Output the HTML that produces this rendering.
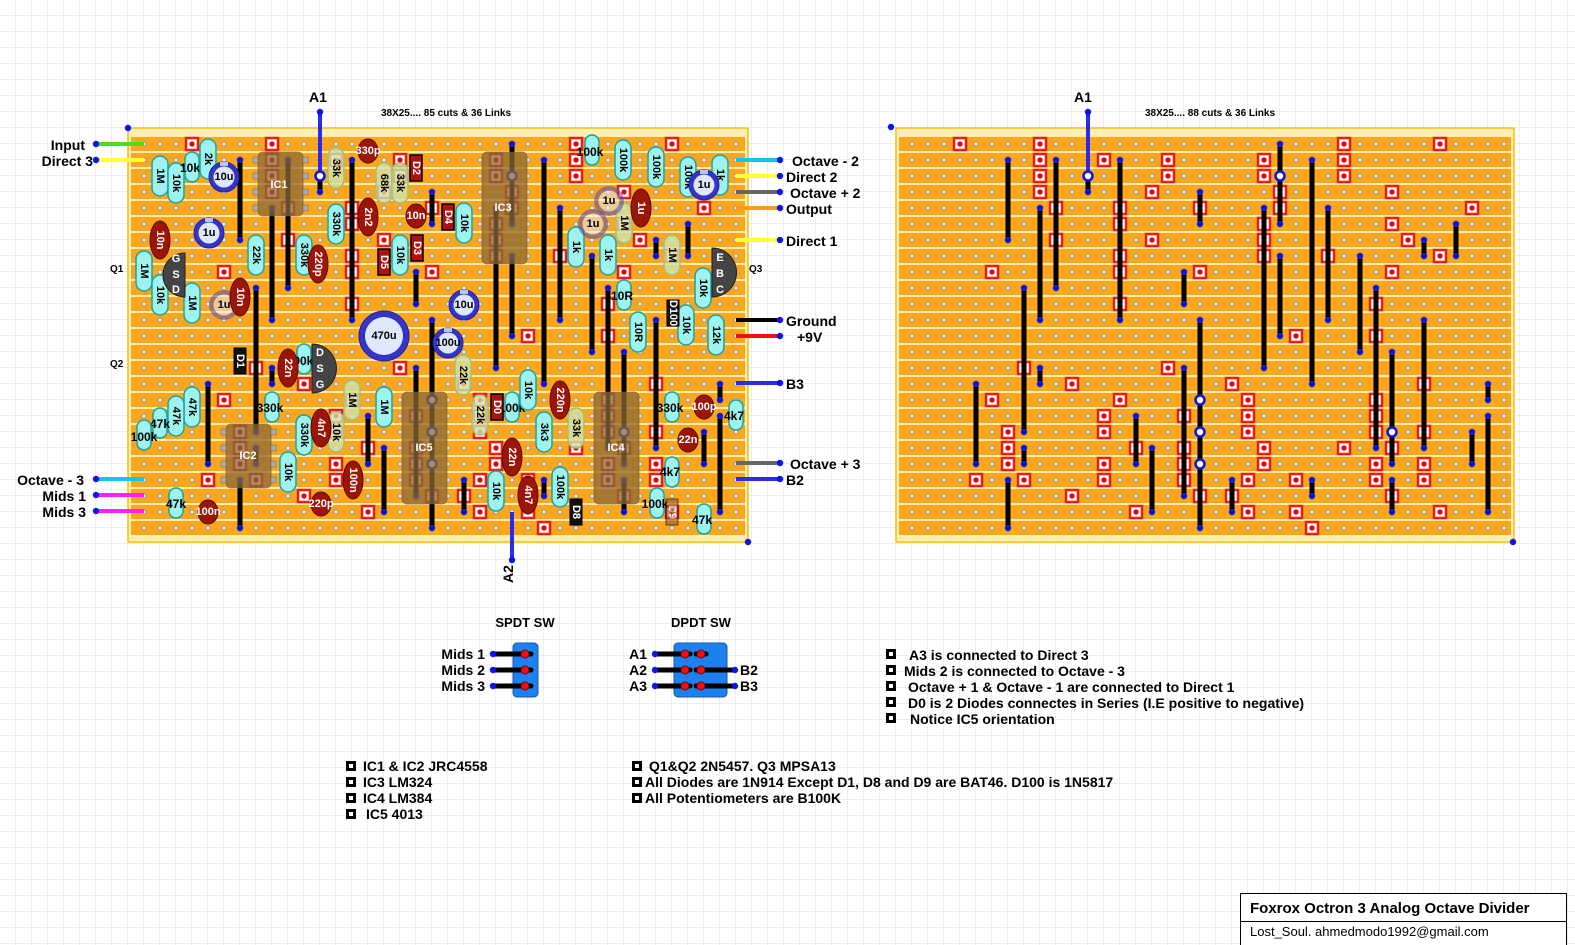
<!DOCTYPE html>
<html><head><meta charset="utf-8"><style>
html,body{margin:0;padding:0;background:#fff}
svg{display:block}
text{font-family:"Liberation Sans",sans-serif}
.b{font-weight:bold}
.lab{font-weight:bold;font-size:14px;fill:#000}
.rt{font-weight:bold;font-size:11px;fill:#000;text-anchor:middle;dominant-baseline:central}
.ct{font-weight:bold;font-size:11px;fill:#fff;text-anchor:middle;dominant-baseline:central}
.ht{font-weight:bold;font-size:12px;fill:#000;text-anchor:middle;dominant-baseline:central}
.lk line{stroke:#000;stroke-width:5}
</style></head><body>
<svg width="1575" height="945" viewBox="0 0 1575 945" xmlns="http://www.w3.org/2000/svg">
<defs>
<pattern id="grid" x="0" y="0" width="16" height="16" patternUnits="userSpaceOnUse"><path d="M16 0V16H0" fill="none" stroke="#dcdcdc" stroke-width="1"/></pattern>
<pattern id="st" x="136" y="136" width="16" height="16" patternUnits="userSpaceOnUse"><rect x="0" y="1" width="16" height="14" fill="#fba61f"/><circle cx="8" cy="8" r="2" fill="#f2f2f2" stroke="#8a8a8a" stroke-width="0.8"/></pattern>
<g id="k"><rect x="-6" y="-6" width="12" height="12" fill="#fff" stroke="#ee1c14" stroke-width="2.5"/><circle r="2.6" fill="#e40000"/></g>
<circle id="d" r="3.2" fill="#0a16e6"/>
<rect id="R" x="-8" y="-20" width="16" height="40" rx="8" fill="#9ef3ee" stroke="#1aa3a0" stroke-width="1.5"/>
<rect id="RF" x="-8" y="-20" width="16" height="40" rx="8" fill="#cfe3a8" fill-opacity="0.8" stroke="#9cc07a" stroke-width="1.5"/>
<rect id="RS" x="-7" y="-15" width="14" height="30" rx="7" fill="#9ef3ee" stroke="#1aa3a0" stroke-width="1.5"/>
<g id="E"><circle r="15" fill="#3434c8" stroke="#22229a"/><circle r="10.5" fill="#dfe8fa"/><rect x="-4" y="-15" width="8" height="4" fill="#b8c4f0"/></g>
<g id="EF" opacity="0.55"><circle r="15" fill="#5a4aa8"/><circle r="10.5" fill="#e8e8f4"/></g>
<ellipse id="C" rx="10" ry="19" fill="#9c1608" stroke="#5a0a00"/>
<ellipse id="CS" rx="10" ry="12" fill="#9c1608" stroke="#5a0a00"/>
<g id="sq"><rect x="-5" y="-5" width="10" height="10" fill="#000"/><rect x="-2" y="-2" width="4" height="4" fill="#fff"/></g>
</defs>
<rect width="1575" height="945" fill="url(#grid)"/>

<!-- boards -->
<rect x="128" y="128" width="620" height="414" fill="#fdeeb6" stroke="#f4c000" stroke-width="1.5"/>
<rect x="131" y="136" width="614" height="400" fill="url(#st)"/>
<rect x="896" y="128" width="618" height="414" fill="#fdeeb6" stroke="#f4c000" stroke-width="1.5"/>
<rect x="899" y="136" width="612" height="400" fill="url(#st)"/>

<g id="CL">
<g>
<use href="#k" x="192" y="144"/><use href="#k" x="272" y="144"/><use href="#k" x="272" y="160"/><use href="#k" x="272" y="176"/><use href="#k" x="272" y="192"/>
<use href="#k" x="336" y="160"/><use href="#k" x="400" y="160"/><use href="#k" x="400" y="176"/><use href="#k" x="384" y="192"/>
<use href="#k" x="288" y="208"/><use href="#k" x="352" y="208"/><use href="#k" x="432" y="208"/><use href="#k" x="352" y="224"/>
<use href="#k" x="288" y="240"/><use href="#k" x="384" y="240"/><use href="#k" x="352" y="256"/><use href="#k" x="224" y="272"/>
<use href="#k" x="352" y="272"/><use href="#k" x="432" y="272"/><use href="#k" x="352" y="304"/><use href="#k" x="256" y="368"/>
<use href="#k" x="400" y="368"/><use href="#k" x="304" y="384"/><use href="#k" x="224" y="400"/><use href="#k" x="352" y="400"/>
<use href="#k" x="336" y="416"/><use href="#k" x="416" y="416"/><use href="#k" x="240" y="432"/><use href="#k" x="336" y="432"/>
<use href="#k" x="240" y="448"/><use href="#k" x="368" y="448"/><use href="#k" x="416" y="448"/><use href="#k" x="240" y="464"/>
<use href="#k" x="336" y="464"/><use href="#k" x="416" y="464"/><use href="#k" x="208" y="480"/><use href="#k" x="256" y="480"/>
<use href="#k" x="336" y="480"/><use href="#k" x="416" y="480"/><use href="#k" x="304" y="496"/><use href="#k" x="432" y="496"/>
<use href="#k" x="368" y="512"/>
<use href="#k" x="576" y="144"/><use href="#k" x="672" y="144"/><use href="#k" x="496" y="160"/><use href="#k" x="576" y="160"/>
<use href="#k" x="496" y="176"/><use href="#k" x="576" y="176"/><use href="#k" x="512" y="192"/><use href="#k" x="624" y="192"/>
<use href="#k" x="512" y="208"/><use href="#k" x="704" y="208"/><use href="#k" x="496" y="224"/><use href="#k" x="624" y="224"/>
<use href="#k" x="496" y="240"/><use href="#k" x="640" y="240"/><use href="#k" x="496" y="256"/><use href="#k" x="560" y="256"/>
<use href="#k" x="672" y="256"/><use href="#k" x="624" y="272"/><use href="#k" x="608" y="304"/><use href="#k" x="528" y="336"/>
<use href="#k" x="608" y="336"/><use href="#k" x="464" y="384"/><use href="#k" x="656" y="384"/><use href="#k" x="480" y="400"/>
<use href="#k" x="608" y="400"/><use href="#k" x="480" y="416"/><use href="#k" x="608" y="416"/><use href="#k" x="480" y="432"/>
<use href="#k" x="608" y="432"/><use href="#k" x="656" y="432"/><use href="#k" x="496" y="448"/><use href="#k" x="576" y="448"/>
<use href="#k" x="624" y="448"/><use href="#k" x="496" y="464"/><use href="#k" x="608" y="464"/><use href="#k" x="656" y="464"/>
<use href="#k" x="480" y="480"/><use href="#k" x="528" y="480"/><use href="#k" x="608" y="480"/><use href="#k" x="656" y="480"/>
<use href="#k" x="464" y="496"/><use href="#k" x="624" y="496"/><use href="#k" x="480" y="512"/><use href="#k" x="528" y="512"/>
<use href="#k" x="672" y="512"/><use href="#k" x="544" y="528"/>
</g>
<g class="lk">
<line x1="240" y1="160" x2="240" y2="240"/><line x1="288" y1="160" x2="288" y2="288"/><line x1="272" y1="208" x2="272" y2="320"/>
<line x1="352" y1="160" x2="352" y2="320"/><line x1="320" y1="176" x2="320" y2="192"/><line x1="432" y1="192" x2="432" y2="224"/>
<line x1="416" y1="272" x2="416" y2="304"/><line x1="432" y1="320" x2="432" y2="528"/><line x1="256" y1="288" x2="256" y2="432"/>
<line x1="272" y1="368" x2="272" y2="384"/><line x1="208" y1="384" x2="208" y2="464"/><line x1="416" y1="368" x2="416" y2="496"/>
<line x1="368" y1="416" x2="368" y2="464"/><line x1="384" y1="448" x2="384" y2="512"/><line x1="256" y1="448" x2="256" y2="464"/>
<line x1="240" y1="480" x2="240" y2="528"/><line x1="512" y1="144" x2="512" y2="224"/><line x1="544" y1="160" x2="544" y2="384"/>
<line x1="496" y1="208" x2="496" y2="368"/><line x1="560" y1="208" x2="560" y2="320"/><line x1="688" y1="224" x2="688" y2="256"/>
<line x1="656" y1="240" x2="656" y2="256"/><line x1="512" y1="256" x2="512" y2="336"/><line x1="592" y1="256" x2="592" y2="352"/>
<line x1="608" y1="288" x2="608" y2="448"/><line x1="656" y1="320" x2="656" y2="448"/><line x1="624" y1="352" x2="624" y2="464"/>
<line x1="720" y1="384" x2="720" y2="400"/><line x1="720" y1="416" x2="720" y2="512"/><line x1="704" y1="432" x2="704" y2="464"/>
<line x1="464" y1="480" x2="464" y2="512"/><line x1="544" y1="480" x2="544" y2="496"/><line x1="624" y1="480" x2="624" y2="512"/>
</g>
<g>
<use href="#d" x="240" y="160"/><use href="#d" x="240" y="240"/><use href="#d" x="288" y="160"/><use href="#d" x="288" y="288"/><use href="#d" x="272" y="208"/><use href="#d" x="272" y="320"/>
<use href="#d" x="352" y="160"/><use href="#d" x="352" y="320"/><use href="#d" x="320" y="192"/><use href="#d" x="432" y="192"/><use href="#d" x="432" y="224"/>
<use href="#d" x="416" y="272"/><use href="#d" x="416" y="304"/><use href="#d" x="432" y="320"/><use href="#d" x="432" y="528"/><use href="#d" x="256" y="288"/><use href="#d" x="256" y="432"/>
<use href="#d" x="272" y="368"/><use href="#d" x="272" y="384"/><use href="#d" x="208" y="384"/><use href="#d" x="208" y="464"/><use href="#d" x="416" y="368"/><use href="#d" x="416" y="496"/>
<use href="#d" x="368" y="416"/><use href="#d" x="368" y="464"/><use href="#d" x="384" y="448"/><use href="#d" x="384" y="512"/><use href="#d" x="256" y="448"/><use href="#d" x="256" y="464"/>
<use href="#d" x="240" y="480"/><use href="#d" x="240" y="528"/><use href="#d" x="512" y="144"/><use href="#d" x="512" y="224"/><use href="#d" x="544" y="160"/><use href="#d" x="544" y="384"/>
<use href="#d" x="496" y="208"/><use href="#d" x="496" y="368"/><use href="#d" x="560" y="208"/><use href="#d" x="560" y="320"/><use href="#d" x="688" y="224"/><use href="#d" x="688" y="256"/>
<use href="#d" x="656" y="240"/><use href="#d" x="656" y="256"/><use href="#d" x="512" y="256"/><use href="#d" x="512" y="336"/><use href="#d" x="592" y="256"/><use href="#d" x="592" y="352"/>
<use href="#d" x="608" y="288"/><use href="#d" x="608" y="448"/><use href="#d" x="656" y="320"/><use href="#d" x="656" y="448"/><use href="#d" x="624" y="352"/><use href="#d" x="624" y="464"/>
<use href="#d" x="720" y="384"/><use href="#d" x="720" y="400"/><use href="#d" x="720" y="416"/><use href="#d" x="720" y="512"/><use href="#d" x="704" y="432"/><use href="#d" x="704" y="464"/>
<use href="#d" x="464" y="480"/><use href="#d" x="464" y="512"/><use href="#d" x="544" y="480"/><use href="#d" x="544" y="496"/><use href="#d" x="624" y="480"/><use href="#d" x="624" y="512"/>
</g>
<g fill="#fff" stroke="#0a16e6" stroke-width="2.5">
<circle cx="432" cy="400" r="4.5"/><circle cx="432" cy="432" r="4.5"/><circle cx="432" cy="464" r="4.5"/><circle cx="512" cy="176" r="4.5"/><circle cx="624" cy="432" r="4.5"/>
</g>
</g>
<use href="#CL" transform="translate(768,0)"/>

<!-- A1 wires -->
<line x1="320" y1="112" x2="320" y2="176" stroke="#2b2bf0" stroke-width="4"/>
<circle cx="320" cy="176" r="4.5" fill="#fff" stroke="#0a16e6" stroke-width="2.5"/>
<line x1="1088" y1="112" x2="1088" y2="176" stroke="#2b2bf0" stroke-width="4"/>
<circle cx="1088" cy="176" r="4.5" fill="#fff" stroke="#0a16e6" stroke-width="2.5"/>
<use href="#d" x="320" y="112"/><use href="#d" x="1088" y="112"/>
<line x1="512" y1="512" x2="512" y2="560" stroke="#2b2bf0" stroke-width="4"/><use href="#d" x="512" y="560"/>

<!-- ICs -->
<g fill="#8b6a35" fill-opacity="0.75" stroke="#6e5225" stroke-opacity="0.6">
<rect x="258" y="152" width="45" height="64" rx="5"/>
<rect x="482" y="152" width="45" height="112" rx="5"/>
<rect x="226" y="424" width="45" height="64" rx="5"/>
<rect x="402" y="392" width="45" height="112" rx="5"/>
<rect x="594" y="392" width="45" height="112" rx="5"/>
</g>
<g fill="#aaa" stroke="#666" stroke-width="0.5">
<rect x="253" y="157" width="5" height="6"/><rect x="253" y="173" width="5" height="6"/><rect x="253" y="189" width="5" height="6"/><rect x="253" y="205" width="5" height="6"/>
<rect x="303" y="157" width="5" height="6"/><rect x="303" y="173" width="5" height="6"/><rect x="303" y="189" width="5" height="6"/><rect x="303" y="205" width="5" height="6"/>
<rect x="221" y="429" width="5" height="6"/><rect x="221" y="445" width="5" height="6"/><rect x="221" y="461" width="5" height="6"/><rect x="221" y="477" width="5" height="6"/>
<rect x="271" y="429" width="5" height="6"/><rect x="271" y="445" width="5" height="6"/><rect x="271" y="461" width="5" height="6"/><rect x="271" y="477" width="5" height="6"/>
</g>
<g class="ct" font-size="12"><text x="279" y="185" class="ct">IC1</text><text x="503" y="208" class="ct">IC3</text><text x="248" y="456" class="ct">IC2</text><text x="424" y="448" class="ct">IC5</text><text x="616" y="448" class="ct">IC4</text></g>

<!-- resistors -->
<g>
<g transform="translate(160,176)"><use href="#R"/><text class="rt" transform="rotate(90)">1M</text></g>
<g transform="translate(176,183)"><use href="#R"/><text class="rt" transform="rotate(90)">10k</text></g>
<g transform="translate(192,167)"><use href="#RS"/></g><text class="ht" x="190" y="168">10k</text>
<g transform="translate(208,159)"><use href="#R"/><text class="rt" transform="rotate(90)">2k</text></g>
<g transform="translate(144,271)"><use href="#R"/><text class="rt" transform="rotate(90)">1M</text></g>
<g transform="translate(160,295)"><use href="#R"/><text class="rt" transform="rotate(90)">10k</text></g>
<g transform="translate(192,303)"><use href="#R"/><text class="rt" transform="rotate(90)">1M</text></g>
<g transform="translate(256,255)"><use href="#R"/><text class="rt" transform="rotate(90)">22k</text></g>
<g transform="translate(304,255)"><use href="#R"/><text class="rt" transform="rotate(90)">330k</text></g>
<g transform="translate(336,224)"><use href="#R"/><text class="rt" transform="rotate(90)">330k</text></g>
<g transform="translate(336,168)"><use href="#RF"/><text class="rt" transform="rotate(90)">33k</text></g>
<g transform="translate(384,183)"><use href="#RF"/><text class="rt" transform="rotate(90)">68k</text></g>
<g transform="translate(400,183)"><use href="#RF"/><text class="rt" transform="rotate(90)">33k</text></g>
<g transform="translate(400,255)"><use href="#R"/><text class="rt" transform="rotate(90)">10k</text></g>
<g transform="translate(464,223)"><use href="#R"/><text class="rt" transform="rotate(90)">10k</text></g>
<g transform="translate(592,150)"><use href="#RS"/></g><text class="ht" x="590" y="152">100k</text>
<g transform="translate(623,160)"><use href="#R"/><text class="rt" transform="rotate(90)">100k</text></g>
<g transform="translate(656,167)"><use href="#R"/><text class="rt" transform="rotate(90)">100k</text></g>
<g transform="translate(688,177)"><use href="#R"/><text class="rt" transform="rotate(90)">100k</text></g>
<g transform="translate(720,175)"><use href="#R"/><text class="rt" transform="rotate(90)">1k</text></g>
<g transform="translate(624,223)"><use href="#RF"/><text class="rt" transform="rotate(90)">1M</text></g>
<g transform="translate(576,247)"><use href="#R"/><text class="rt" transform="rotate(90)">1k</text></g>
<g transform="translate(608,255)"><use href="#R"/><text class="rt" transform="rotate(90)">1k</text></g>
<g transform="translate(672,255)"><use href="#RF"/><text class="rt" transform="rotate(90)">1M</text></g>
<g transform="translate(703,288)"><use href="#R"/><text class="rt" transform="rotate(90)">10k</text></g>
<g transform="translate(624,295)"><use href="#RS"/></g><text class="ht" x="622" y="296">10R</text>
<g transform="translate(638,332)"><use href="#R"/><text class="rt" transform="rotate(90)">10R</text></g>
<g transform="translate(686,325)"><use href="#R"/><text class="rt" transform="rotate(90)">10k</text></g>
<g transform="translate(716,335)"><use href="#R"/><text class="rt" transform="rotate(90)">12k</text></g>
<g transform="translate(304,359)"><use href="#RS"/></g><text class="ht" x="300" y="361">100k</text>
<g transform="translate(352,400)"><use href="#RF"/><text class="rt" transform="rotate(90)">1M</text></g>
<g transform="translate(384,407)"><use href="#R"/><text class="rt" transform="rotate(90)">1M</text></g>
<g transform="translate(272,407)"><use href="#RS"/></g><text class="ht" x="270" y="408">330k</text>
<g transform="translate(192,407)"><use href="#R"/><text class="rt" transform="rotate(90)">47k</text></g>
<g transform="translate(176,416)"><use href="#R"/><text class="rt" transform="rotate(90)">47k</text></g>
<g transform="translate(160,423)"><use href="#RS"/></g><text class="ht" x="160" y="424">47k</text>
<g transform="translate(144,435)"><use href="#RS"/></g><text class="ht" x="144" y="437">100k</text>
<g transform="translate(304,435)"><use href="#R"/><text class="rt" transform="rotate(90)">330k</text></g>
<g transform="translate(336,432)"><use href="#RF"/><text class="rt" transform="rotate(90)">10k</text></g>
<g transform="translate(288,472)"><use href="#R"/><text class="rt" transform="rotate(90)">10k</text></g>
<g transform="translate(176,503)"><use href="#RS"/></g><text class="ht" x="176" y="504">47k</text>
<g transform="translate(463,375)"><use href="#RF"/><text class="rt" transform="rotate(90)">22k</text></g>
<g transform="translate(480,415)"><use href="#RF"/><text class="rt" transform="rotate(90)">22k</text></g>
<g transform="translate(512,407)"><use href="#RS"/></g><text class="ht" x="512" y="408">100k</text>
<g transform="translate(528,390)"><use href="#R"/><text class="rt" transform="rotate(90)">10k</text></g>
<g transform="translate(544,432)"><use href="#R"/><text class="rt" transform="rotate(90)">3k3</text></g>
<g transform="translate(576,428)"><use href="#RF"/><text class="rt" transform="rotate(90)">33k</text></g>
<g transform="translate(496,491)"><use href="#R"/><text class="rt" transform="rotate(90)">10k</text></g>
<g transform="translate(560,487)"><use href="#R"/><text class="rt" transform="rotate(90)">100k</text></g>
<g transform="translate(672,407)"><use href="#RS"/></g><text class="ht" x="670" y="408">330k</text>
<g transform="translate(736,415)"><use href="#RS"/></g><text class="ht" x="734" y="416">4k7</text>
<g transform="translate(672,472)"><use href="#RS"/></g><text class="ht" x="670" y="472">4k7</text>
<g transform="translate(657,503)"><use href="#RS"/></g><text class="ht" x="655" y="504">100k</text>
<g transform="translate(704,519)"><use href="#RS"/></g><text class="ht" x="702" y="520">47k</text>
</g>

<!-- caps -->
<g>
<g transform="translate(224,177)"><use href="#E"/><text class="rt">10u</text></g>
<g transform="translate(209,233)"><use href="#E"/><text class="rt">1u</text></g>
<g transform="translate(224,305)"><use href="#EF"/><text class="rt">1u</text></g>
<g transform="translate(464,305)"><use href="#E"/><text class="rt">10u</text></g>
<g transform="translate(448,343)"><use href="#E"/><text class="rt">100u</text></g>
<g transform="translate(704,185)"><use href="#E"/><text class="rt">1u</text></g>
<g transform="translate(609,201)"><use href="#EF"/><text class="rt">1u</text></g>
<g transform="translate(593,224)"><use href="#EF"/><text class="rt">1u</text></g>
<g transform="translate(384,336)"><circle r="25" fill="#3434c8" stroke="#22229a"/><circle r="19" fill="#dfe8fa"/><text class="rt">470u</text></g>
<g transform="translate(160,240)"><use href="#C"/><text class="ct" transform="rotate(90)">10n</text></g>
<g transform="translate(240,297)"><use href="#C"/><text class="ct" transform="rotate(90)">10n</text></g>
<g transform="translate(318,264)"><use href="#C"/><text class="ct" transform="rotate(90)">220p</text></g>
<g transform="translate(368,217)"><use href="#C"/><text class="ct" transform="rotate(90)">2n2</text></g>
<g transform="translate(641,208)"><use href="#C"/><text class="ct" transform="rotate(90)">1u</text></g>
<g transform="translate(288,368)"><use href="#C"/><text class="ct" transform="rotate(90)">22n</text></g>
<g transform="translate(321,428)"><use href="#C"/><text class="ct" transform="rotate(90)">4n7</text></g>
<g transform="translate(353,480)"><use href="#C"/><text class="ct" transform="rotate(90)">100n</text></g>
<g transform="translate(560,400)"><use href="#C"/><text class="ct" transform="rotate(90)">220n</text></g>
<g transform="translate(512,457)"><use href="#C"/><text class="ct" transform="rotate(90)">22n</text></g>
<g transform="translate(528,495)"><use href="#C"/><text class="ct" transform="rotate(90)">4n7</text></g>
<g transform="translate(368,151)"><use href="#CS"/><text class="ct" font-size="9">330p</text></g>
<g transform="translate(416,216)"><use href="#CS"/><text class="ct" font-size="10">10n</text></g>
<g transform="translate(321,504)"><use href="#CS"/><text class="ct" font-size="9">220p</text></g>
<g transform="translate(208,512)"><use href="#CS"/><text class="ct" font-size="9">100n</text></g>
<g transform="translate(704,407)"><use href="#CS"/><text class="ct" font-size="9">100p</text></g>
<g transform="translate(688,440)"><use href="#CS"/><text class="ct" font-size="9">22n</text></g>
</g>

<!-- diodes -->
<g>
<g transform="translate(416,168)"><rect x="-6" y="-13" width="12" height="26" fill="#b01010" stroke="#000" stroke-width="1.5"/><text class="ct" font-size="9" transform="rotate(90)">D2</text></g>
<g transform="translate(417,248)"><rect x="-6" y="-13" width="12" height="26" fill="#b01010" stroke="#000" stroke-width="1.5"/><text class="ct" font-size="9" transform="rotate(90)">D3</text></g>
<g transform="translate(384,262)"><rect x="-6" y="-13" width="12" height="26" fill="#b01010" stroke="#000" stroke-width="1.5"/><text class="ct" font-size="9" transform="rotate(90)">D5</text></g>
<g transform="translate(448,217)"><rect x="-6" y="-13" width="12" height="26" fill="#b01010" stroke="#000" stroke-width="1.5"/><text class="ct" font-size="9" transform="rotate(90)">D4</text></g>
<g transform="translate(497,407)"><rect x="-6" y="-13" width="12" height="26" fill="#b01010" stroke="#000" stroke-width="1.5"/><text class="ct" font-size="9" transform="rotate(90)">D0</text></g>
<g transform="translate(240,361)"><rect x="-6" y="-13" width="12" height="26" fill="#111" stroke="#000"/><text class="ct" font-size="9" transform="rotate(90)">D1</text></g>
<g transform="translate(576,512)"><rect x="-6" y="-13" width="12" height="26" fill="#111" stroke="#000"/><text class="ct" font-size="9" transform="rotate(90)">D8</text></g>
<g transform="translate(673,313)"><rect x="-6" y="-13" width="12" height="26" fill="#111" stroke="#000"/><text class="ct" font-size="8" transform="rotate(90)">D100</text></g>
<g transform="translate(672,512)" opacity="0.6"><rect x="-6" y="-13" width="12" height="26" fill="#8a5a20" stroke="#000"/><text class="ct" font-size="9" transform="rotate(90)">D9</text></g>
</g>

<!-- transistors -->
<path d="M185 253 A22 22 0 0 0 185 297 Z" fill="#444" stroke="#222"/>
<text class="ct" font-size="15" x="176" y="259">G</text><text class="ct" font-size="15" x="176" y="275">S</text><text class="ct" font-size="15" x="176" y="290">D</text>
<path d="M312 344 A24 24 0 0 1 312 393 Z" fill="#444" stroke="#222"/>
<text class="ct" font-size="15" x="320" y="353">D</text><text class="ct" font-size="15" x="320" y="369">S</text><text class="ct" font-size="15" x="320" y="385">G</text>
<path d="M712 248 A24 24 0 0 1 712 297 Z" fill="#444" stroke="#222"/>
<text class="ct" font-size="15" x="720" y="258">E</text><text class="ct" font-size="15" x="720" y="274">B</text><text class="ct" font-size="15" x="720" y="290">C</text>
<text class="b" font-size="10" x="110" y="272">Q1</text><text class="b" font-size="10" x="110" y="367">Q2</text><text class="b" font-size="10" x="749" y="272">Q3</text>

<!-- off-board wires -->
<g stroke-width="4">
<line x1="96" y1="144" x2="144" y2="144" stroke="#49e01a"/>
<line x1="96" y1="160" x2="144" y2="160" stroke="#ffff33"/>
<line x1="96" y1="479" x2="144" y2="479" stroke="#12c6f2"/>
<line x1="96" y1="495" x2="144" y2="495" stroke="#ff1eff"/>
<line x1="96" y1="511" x2="144" y2="511" stroke="#ff1eff"/>
<line x1="736" y1="160" x2="780" y2="160" stroke="#12c6f2"/>
<line x1="736" y1="176" x2="780" y2="176" stroke="#ffff33"/>
<line x1="736" y1="192" x2="780" y2="192" stroke="#666"/>
<line x1="736" y1="208" x2="780" y2="208" stroke="#fb9a1c"/>
<line x1="736" y1="240" x2="780" y2="240" stroke="#ffff33"/>
<line x1="736" y1="320" x2="780" y2="320" stroke="#000"/>
<line x1="736" y1="336" x2="780" y2="336" stroke="#f21010"/>
<line x1="736" y1="383" x2="780" y2="383" stroke="#2b2bf0"/>
<line x1="736" y1="463" x2="780" y2="463" stroke="#666"/>
<line x1="736" y1="479" x2="780" y2="479" stroke="#2b2bf0"/>
</g>
<g>
<use href="#d" x="96" y="144"/><use href="#d" x="96" y="160"/><use href="#d" x="96" y="479"/><use href="#d" x="96" y="495"/><use href="#d" x="96" y="511"/>
<use href="#d" x="780" y="160"/><use href="#d" x="780" y="176"/><use href="#d" x="780" y="192"/><use href="#d" x="780" y="208"/><use href="#d" x="780" y="240"/>
<use href="#d" x="780" y="320"/><use href="#d" x="780" y="336"/><use href="#d" x="780" y="383"/><use href="#d" x="780" y="463"/><use href="#d" x="780" y="479"/>
<use href="#d" x="128" y="128"/><use href="#d" x="748" y="542"/><use href="#d" x="891" y="127"/><use href="#d" x="1513" y="542"/>
</g>
<g class="lab">
<text x="85" y="150" text-anchor="end">Input</text>
<text x="93" y="166" text-anchor="end">Direct 3</text>
<text x="84" y="485" text-anchor="end">Octave - 3</text>
<text x="86" y="501" text-anchor="end">Mids 1</text>
<text x="86" y="517" text-anchor="end">Mids 3</text>
<text x="792" y="166">Octave - 2</text>
<text x="786" y="182">Direct 2</text>
<text x="790" y="198">Octave + 2</text>
<text x="786" y="214">Output</text>
<text x="786" y="246">Direct 1</text>
<text x="786" y="326">Ground</text>
<text x="797" y="342">+9V</text>
<text x="786" y="389">B3</text>
<text x="790" y="469">Octave + 3</text>
<text x="786" y="485">B2</text>
<text x="318" y="102" text-anchor="middle">A1</text>
<text x="1083" y="102" text-anchor="middle">A1</text>
<text transform="translate(513,574) rotate(-90)" text-anchor="middle">A2</text>
</g>
<text class="b" font-size="10" x="446" y="116" text-anchor="middle">38X25.... 85 cuts &amp; 36 Links</text>
<text class="b" font-size="10" x="1210" y="116" text-anchor="middle">38X25.... 88 cuts &amp; 36 Links</text>

<!-- switches -->
<text class="b" font-size="13" x="525" y="627" text-anchor="middle">SPDT SW</text>
<text class="b" font-size="13" x="701" y="627" text-anchor="middle">DPDT SW</text>
<rect x="513" y="643" width="25" height="54" rx="4" fill="#1e80ee" stroke="#1258b0"/>
<rect x="674" y="643" width="53" height="54" rx="4" fill="#1e80ee" stroke="#1258b0"/>
<g stroke="#000" stroke-width="5" stroke-linecap="round">
<line x1="493" y1="654" x2="531" y2="654"/><line x1="493" y1="670" x2="531" y2="670"/><line x1="493" y1="686" x2="531" y2="686"/>
<line x1="655" y1="654" x2="690" y2="654"/><line x1="655" y1="670" x2="690" y2="670"/><line x1="655" y1="686" x2="690" y2="686"/>
<line x1="696" y1="654" x2="706" y2="654"/><line x1="696" y1="670" x2="735" y2="670"/><line x1="696" y1="686" x2="735" y2="686"/>
</g>
<g fill="#e81010" stroke="#700" stroke-width="1">
<circle cx="525" cy="654" r="4"/><circle cx="525" cy="670" r="4"/><circle cx="525" cy="686" r="4"/>
<circle cx="685" cy="654" r="4"/><circle cx="685" cy="670" r="4"/><circle cx="685" cy="686" r="4"/>
<circle cx="701" cy="654" r="4"/><circle cx="701" cy="670" r="4"/><circle cx="701" cy="686" r="4"/>
</g>
<use href="#d" x="493" y="654"/><use href="#d" x="493" y="670"/><use href="#d" x="493" y="686"/>
<use href="#d" x="655" y="654"/><use href="#d" x="655" y="670"/><use href="#d" x="655" y="686"/>
<use href="#d" x="735" y="670"/><use href="#d" x="735" y="686"/>
<g class="lab">
<text x="485" y="659" text-anchor="end">Mids 1</text><text x="485" y="675" text-anchor="end">Mids 2</text><text x="485" y="691" text-anchor="end">Mids 3</text>
<text x="647" y="659" text-anchor="end">A1</text><text x="647" y="675" text-anchor="end">A2</text><text x="647" y="691" text-anchor="end">A3</text>
<text x="740" y="675">B2</text><text x="740" y="691">B3</text>
</g>

<!-- notes -->
<g><use href="#sq" x="891" y="654"/><use href="#sq" x="891" y="670"/><use href="#sq" x="891" y="686"/><use href="#sq" x="891" y="702"/><use href="#sq" x="891" y="718"/>
<use href="#sq" x="351" y="766"/><use href="#sq" x="351" y="782"/><use href="#sq" x="351" y="798"/><use href="#sq" x="351" y="814"/>
<use href="#sq" x="637" y="766"/><use href="#sq" x="637" y="782"/><use href="#sq" x="637" y="798"/></g>
<g class="lab">
<text x="909" y="660">A3 is connected to Direct 3</text>
<text x="904" y="676">Mids 2 is connected to Octave - 3</text>
<text x="908" y="692">Octave + 1 &amp; Octave - 1 are connected to Direct 1</text>
<text x="908" y="708">D0 is 2 Diodes connectes in Series (I.E positive to negative)</text>
<text x="910" y="724">Notice IC5 orientation</text>
<text x="363" y="771">IC1 &amp; IC2 JRC4558</text>
<text x="363" y="787">IC3 LM324</text>
<text x="363" y="803">IC4 LM384</text>
<text x="366" y="819">IC5 4013</text>
<text x="649" y="771">Q1&amp;Q2 2N5457. Q3 MPSA13</text>
<text x="645" y="787">All Diodes are 1N914 Except D1, D8 and D9 are BAT46. D100 is 1N5817</text>
<text x="645" y="803">All Potentiometers are B100K</text>
</g>

<!-- title -->
<rect x="1240.5" y="893.5" width="326" height="52" fill="#fff" stroke="#000"/>
<line x1="1240" y1="921.5" x2="1567" y2="921.5" stroke="#000"/>
<text class="b" font-size="15" x="1250" y="913">Foxrox Octron 3 Analog Octave Divider</text>
<text font-size="13" x="1250" y="936">Lost_Soul. ahmedmodo1992@gmail.com</text>
</svg>
</body></html>
